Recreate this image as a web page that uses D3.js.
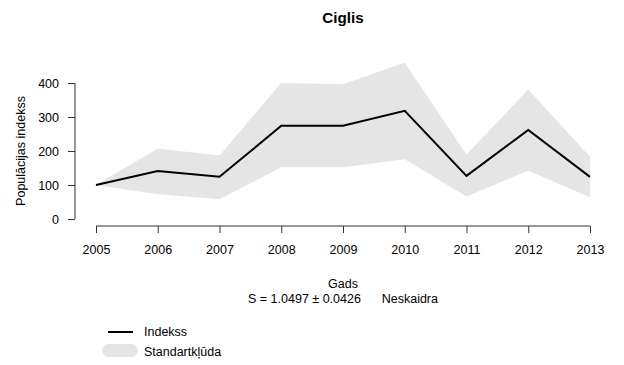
<!DOCTYPE html>
<html><head><meta charset="utf-8">
<script src="https://cdn.jsdelivr.net/npm/d3@7"></script>
<style>body{margin:0;background:#fff}text{font-family:"Liberation Sans",Arial,sans-serif}</style>
</head><body><svg id="c" width="624" height="365"></svg>
<script>
const years = [2005,2006,2007,2008,2009,2010,2011,2012,2013];
const index = [100,141,124,274,274,318,127,262,124];
const upper = [100,207,187,400,396,460,190,381,183];
const lower = [100,73,58,152,152,176,66,142,64];
const yTicks = [0,100,200,300,400];

const svg = d3.select("#c");
const x = d3.scaleLinear().domain([2005,2013]).range([96,590]);
const y = d3.scaleLinear().domain([0,400]).range([219,83]);
const data = years.map((yr,i)=>({yr, v:index[i], lo:lower[i], hi:upper[i]}));

svg.append("path").datum(data)
  .attr("d", d3.area().x(d=>x(d.yr)).y0(d=>y(d.lo)).y1(d=>y(d.hi)))
  .attr("fill","#e5e5e5");
svg.append("path").datum(data)
  .attr("d", d3.line().x(d=>x(d.yr)).y(d=>y(d.v)))
  .attr("fill","none").attr("stroke","#000").attr("stroke-width",2);

const ya = svg.append("g").attr("transform","translate(75,0)")
  .call(d3.axisLeft(y).tickValues(yTicks).tickSize(7).tickPadding(9).tickFormat(d3.format("d")));
const xa = svg.append("g").attr("transform","translate(0,226)")
  .call(d3.axisBottom(x).tickValues(years).tickSize(7).tickPadding(12).tickFormat(d3.format("d")));
[ya,xa].forEach(a=>{
  a.selectAll("path,line").attr("stroke","#333");
  a.selectAll("text").attr("font-size",12.5).attr("fill","#000").style("font-family","Liberation Sans, Arial, sans-serif");
});
ya.select(".domain").attr("d","M0,"+y(400)+"V"+y(0));
xa.select(".domain").attr("d","M"+x(2005)+",0H"+x(2013));

svg.append("text").attr("x",343).attr("y",23).attr("text-anchor","middle")
  .attr("font-size",15.2).attr("font-weight","bold").text("Ciglis");
svg.append("text").attr("transform","translate(25,151) rotate(-90)").attr("text-anchor","middle")
  .attr("font-size",12.5).text("Populācijas indekss");
svg.append("text").attr("x",343).attr("y",288).attr("text-anchor","middle").attr("font-size",12.5).text("Gads");
svg.append("text").attr("x",343).attr("y",303).attr("text-anchor","middle").attr("font-size",12.5)
  .attr("xml:space","preserve").text("S = 1.0497 ± 0.0426      Neskaidra");

// legend
svg.append("line").attr("x1",108).attr("x2",133).attr("y1",332).attr("y2",332).attr("stroke","#000").attr("stroke-width",2);
svg.append("text").attr("x",144).attr("y",336).attr("font-size",12.5).text("Indekss");
svg.append("rect").attr("x",102).attr("y",344).attr("width",36).attr("height",13).attr("rx",6.5).attr("fill","#e5e5e5");
svg.append("text").attr("x",144).attr("y",356).attr("font-size",12.5).text("Standartkļūda");
</script></body></html>
